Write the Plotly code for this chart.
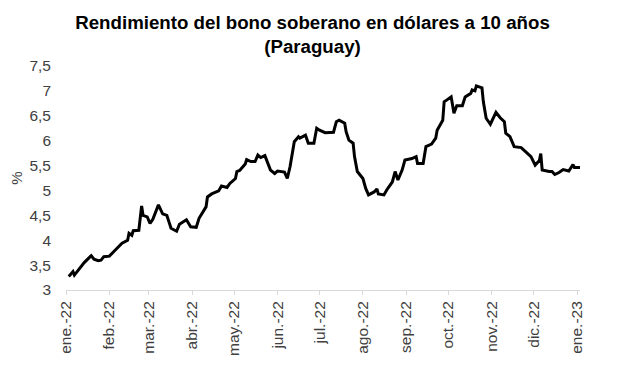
import plotly.graph_objects as go

dates = [
    "2022-01-03", "2022-01-06", "2022-01-07", "2022-01-12", "2022-01-14", "2022-01-19",
    "2022-01-21", "2022-01-24", "2022-01-26", "2022-01-28", "2022-02-01", "2022-02-04",
    "2022-02-08", "2022-02-10", "2022-02-14", "2022-02-15", "2022-02-17", "2022-02-18",
    "2022-02-22", "2022-02-24", "2022-02-25", "2022-02-28", "2022-03-02", "2022-03-04",
    "2022-03-08", "2022-03-11", "2022-03-14", "2022-03-15", "2022-03-17", "2022-03-21",
    "2022-03-23", "2022-03-28", "2022-03-31", "2022-04-04", "2022-04-06", "2022-04-11",
    "2022-04-12", "2022-04-15", "2022-04-20", "2022-04-22", "2022-04-26", "2022-04-28",
    "2022-05-02", "2022-05-03", "2022-05-05", "2022-05-09", "2022-05-10", "2022-05-13",
    "2022-05-16", "2022-05-18", "2022-05-20", "2022-05-23", "2022-05-25", "2022-05-27",
    "2022-05-30", "2022-06-01", "2022-06-06", "2022-06-08", "2022-06-10", "2022-06-13",
    "2022-06-16", "2022-06-17", "2022-06-21", "2022-06-23", "2022-06-27", "2022-06-29",
    "2022-07-01", "2022-07-05", "2022-07-11", "2022-07-13", "2022-07-15", "2022-07-19",
    "2022-07-20", "2022-07-22", "2022-07-25", "2022-07-26", "2022-07-28", "2022-08-01",
    "2022-08-03", "2022-08-05", "2022-08-09", "2022-08-11", "2022-08-12", "2022-08-16",
    "2022-08-18", "2022-08-22", "2022-08-24", "2022-08-26", "2022-08-29", "2022-08-31",
    "2022-09-05", "2022-09-08", "2022-09-09", "2022-09-13", "2022-09-15", "2022-09-19",
    "2022-09-22", "2022-09-23", "2022-09-27", "2022-09-28", "2022-09-30", "2022-10-03",
    "2022-10-05", "2022-10-07", "2022-10-11", "2022-10-13", "2022-10-17", "2022-10-18",
    "2022-10-20", "2022-10-21", "2022-10-25", "2022-10-26", "2022-10-28", "2022-10-31",
    "2022-11-04", "2022-11-07", "2022-11-10", "2022-11-11", "2022-11-14", "2022-11-17",
    "2022-11-22", "2022-11-25", "2022-11-29", "2022-12-02", "2022-12-05", "2022-12-06",
    "2022-12-07", "2022-12-12", "2022-12-14", "2022-12-16", "2022-12-19", "2022-12-22",
    "2022-12-26", "2022-12-29", "2022-12-30", "2023-01-03",
]
yields = [
    3.27, 3.37, 3.30, 3.47, 3.55, 3.69,
    3.62, 3.59, 3.60, 3.67, 3.68, 3.77,
    3.88, 3.94, 4.00, 4.14, 4.10, 4.19,
    4.20, 4.69, 4.50, 4.47, 4.34, 4.42,
    4.71, 4.53, 4.50, 4.41, 4.24, 4.18,
    4.32, 4.41, 4.27, 4.26, 4.44, 4.67,
    4.87, 4.93, 4.99, 5.09, 5.06, 5.14,
    5.24, 5.38, 5.40, 5.53, 5.62, 5.58,
    5.58, 5.71, 5.66, 5.70, 5.54, 5.41,
    5.34, 5.39, 5.37, 5.24, 5.48, 5.98,
    6.08, 6.05, 6.11, 5.95, 5.95, 6.25,
    6.21, 6.16, 6.17, 6.38, 6.41, 6.35,
    6.18, 6.01, 5.95, 5.68, 5.38, 5.24,
    5.04, 4.91, 4.97, 5.03, 4.93, 4.91,
    5.01, 5.17, 5.38, 5.21, 5.41, 5.61,
    5.64, 5.68, 5.54, 5.54, 5.88, 5.93,
    6.05, 6.21, 6.41, 6.78, 6.82, 6.88,
    6.55, 6.70, 6.70, 6.88, 6.95, 7.02,
    7.00, 7.10, 7.06, 6.78, 6.45, 6.33,
    6.57, 6.46, 6.38, 6.15, 6.08, 5.88,
    5.86, 5.78, 5.68, 5.51, 5.60, 5.74,
    5.41, 5.38, 5.38, 5.32, 5.36, 5.42,
    5.39, 5.52, 5.46, 5.46,
]

tick_dates = [
    "2022-01-01", "2022-02-01", "2022-03-01", "2022-04-01", "2022-05-01", "2022-06-01",
    "2022-07-01", "2022-08-01", "2022-09-01", "2022-10-01", "2022-11-01", "2022-12-01",
    "2023-01-01",
]
tick_labels = [
    "ene.-22", "feb.-22", "mar.-22", "abr.-22", "may.-22", "jun.-22", "jul.-22",
    "ago.-22", "sep.-22", "oct.-22", "nov.-22", "dic.-22", "ene.-23",
]
y_ticks = [3, 3.5, 4, 4.5, 5, 5.5, 6, 6.5, 7, 7.5]

fig = go.Figure()
fig.add_trace(go.Scatter(
    x=dates, y=yields, mode="lines",
    line=dict(color="#000000", width=3),
    hoverinfo="skip", showlegend=False,
))

font_family = "Liberation Sans, Arial, sans-serif"

# page body has an 8px default margin, so the figure is sized to fit within it
fig.update_layout(
    width=609, height=369,
    margin=dict(l=58, r=37, t=58, b=87),
    paper_bgcolor="white", plot_bgcolor="white",
    separators=",.",
    font=dict(family=font_family, color="#404040", size=15),
    title=dict(
        text="<b>Rendimiento del bono soberano en dólares a 10 años<br>(Paraguay)</b>",
        x=0.5, xanchor="center", y=0.944, yanchor="top",
        font=dict(family=font_family, size=18.7, color="#000000"),
    ),
    xaxis=dict(
        type="date",
        range=["2022-01-01", "2023-01-03"],
        tickmode="array", tickvals=tick_dates, ticktext=tick_labels,
        tickangle=-90,
        showline=True, linecolor="#d9d9d9", linewidth=1,
        ticks="outside", ticklen=4, tickcolor="#d9d9d9",
        showgrid=False, zeroline=False, automargin=False,
        tickfont=dict(size=15.5, color="#404040"),
    ),
    yaxis=dict(
        range=[3, 7.5],
        tickmode="array", tickvals=y_ticks,
        showline=False, showgrid=False, zeroline=False, automargin=False,
        ticks="", ticklabelstandoff=14,
        tickfont=dict(size=15.5, color="#404040"),
        title=dict(text="%", standoff=8, font=dict(size=15, color="#404040")),
    ),
)

fig.write_html("out.html")
